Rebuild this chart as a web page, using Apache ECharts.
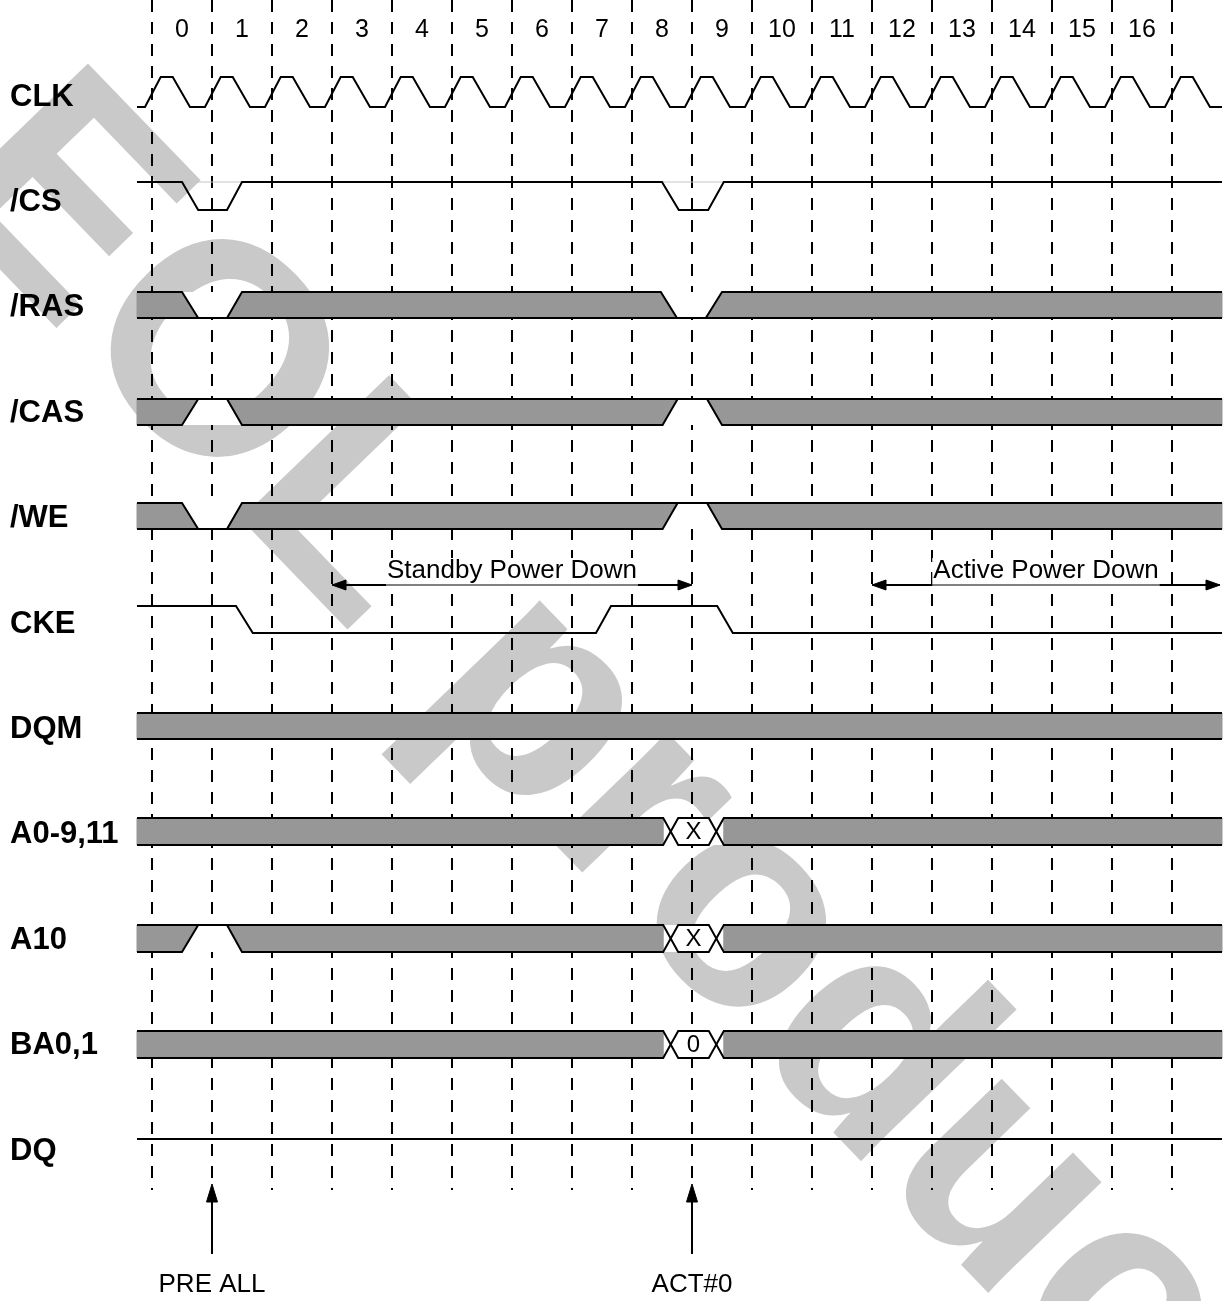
<!DOCTYPE html>
<html><head><meta charset="utf-8">
<script src="https://cdn.jsdelivr.net/npm/echarts/dist/echarts.min.js"></script>
<style>html,body{margin:0;padding:0;background:#fff}#c{width:1224px;height:1301px}</style>
</head><body><div id="c"></div>
<script>
// ---------------- data ----------------
const clockLabels = ['0','1','2','3','4','5','6','7','8','9','10','11','12','13','14','15','16'];
const signalNames = ['CLK','/CS','/RAS','/CAS','/WE','CKE','DQM','A0-9,11','A10','BA0,1','DQ'];
const gridTimes = [0,1,2,3,4,5,6,7,8,9,10,11,12,13,14,15,16,17];
const clkRise = [0,1,2,3,4,5,6,7,8,9,10,11,12,13,14,15,16,17];
// edges: [start, end, new state]  (H high, L low, X don't care, V valid)
const csEdges   = [[0.5,0.77,'L'],[1.25,1.5,'H'],[8.5,8.78,'L'],[9.27,9.53,'H']];
const rasEdges  = [[0.5,0.77,'L'],[1.25,1.5,'X'],[8.48,8.75,'L'],[9.23,9.5,'X']];
const casEdges  = [[0.5,0.77,'H'],[1.25,1.5,'X'],[8.51,8.76,'H'],[9.25,9.5,'X']];
const weEdges   = [[0.5,0.77,'L'],[1.25,1.5,'X'],[8.51,8.76,'H'],[9.25,9.5,'X']];
const ckeEdges  = [[1.4,1.68,'L'],[7.4,7.65,'H'],[9.42,9.68,'L']];
const dqmEdges  = [];
const addrEdges = [[8.52,8.77,'V'],[9.28,9.53,'X']];
const a10Edges  = [[0.5,0.77,'H'],[1.25,1.5,'X'],[8.52,8.77,'V'],[9.28,9.53,'X']];
const baEdges   = [[8.52,8.77,'V'],[9.28,9.53,'X']];
const dqEdges   = [];
const busValues = ['', '', '', '', '', '', '', 'X', 'X', '0', ''];
const spanStarts = [3, 12];
const spanEnds   = [9, 17.8];
const spanLabels = ['Standby Power Down', 'Active Power Down'];
const cmdTimes  = [1, 9];
const cmdLabels = ['PRE ALL', 'ACT#0'];
const watermarkText = 'EOL product';

// ---------------- layout ----------------
const T0 = -0.25, T1 = 17.8333;
const Y0 = 97, YU = 105.4;
const py = px => (px - Y0) / YU;
const rowTopBot = [[77,107],[182,210],[292,318],[399,425],[503,529],[606,633],[713,739],[818,845],[925,952],[1031,1058],[1139,1139]];
const clkShape = [[-0.117,0],[0.145,1],[0.345,1],[0.633,0]];
const GRAY = '#979797';
const FONT = '"Liberation Sans", Arial, sans-serif';
const rows = [
  {kind:'clock'},
  {kind:'line', init:'H', edges:csEdges, ghost:true},
  {kind:'bus', init:'X', edges:rasEdges},
  {kind:'bus', init:'X', edges:casEdges},
  {kind:'bus', init:'X', edges:weEdges},
  {kind:'line', init:'H', edges:ckeEdges},
  {kind:'bus', init:'X', edges:dqmEdges},
  {kind:'bus', init:'X', edges:addrEdges},
  {kind:'bus', init:'X', edges:a10Edges},
  {kind:'bus', init:'X', edges:baEdges},
  {kind:'line', init:'H', edges:dqEdges}
];

const mctx = document.createElement('canvas').getContext('2d');
function textW(t, font){ mctx.font = font; return mctx.measureText(t).width; }

function renderRow(params, api) {
  const i = params.dataIndex;
  const row = rows[i];
  const yTop = api.coord([0, py(rowTopBot[i][0])])[1];
  const yBot = api.coord([0, py(rowTopBot[i][1])])[1];
  const X = t => api.coord([t, 0])[0];
  const ls = {stroke:'#000', lineWidth:2, fill:null, lineJoin:'miter'};
  const children = [];
  if (row.kind === 'clock') {
    const pts = [[X(T0), yBot]];
    clkRise.forEach(k => clkShape.forEach(([o, l]) => pts.push([X(k + o), l ? yTop : yBot])));
    pts.push([X(T1), yBot]);
    children.push({type:'polyline', shape:{points:pts}, style:ls});
    return {type:'group', children};
  }
  const segs = []; let cur = row.init, pos = T0;
  row.edges.forEach(([a, b, s]) => {
    segs.push({k:'s', p:pos, q:a, s:cur});
    segs.push({k:'t', p:a, q:b, s1:cur, s2:s});
    cur = s; pos = b;
  });
  segs.push({k:'s', p:pos, q:T1, s:cur});
  const up = s => s === 'L' ? yBot : yTop;
  const lo = s => s === 'H' ? yTop : yBot;
  const bus = row.kind === 'bus';
  if (bus) {
    children.push({type:'rect', shape:{x:X(T0), y:yTop, width:X(T1)-X(T0), height:yBot-yTop}, style:{fill:'#fff'}});
    segs.forEach(g => {
      let poly = null;
      if (g.k === 's' && g.s === 'X') poly = [[X(g.p),yTop],[X(g.q),yTop],[X(g.q),yBot],[X(g.p),yBot]];
      else if (g.k === 't' && (g.s1 === 'X' || g.s2 === 'X') && g.s1 !== 'V' && g.s2 !== 'V')
        poly = [[X(g.p),up(g.s1)],[X(g.q),up(g.s2)],[X(g.q),lo(g.s2)],[X(g.p),lo(g.s1)]];
      if (poly) children.push({type:'polygon', shape:{points:poly}, style:{fill:GRAY, stroke:GRAY, lineWidth:1}});
    });
  }
  if (row.ghost) children.push({type:'line', shape:{x1:X(T0), y1:yTop, x2:X(T1), y2:yTop}, style:{stroke:'#c4c4c4', lineWidth:1}});
  const A = [[X(T0), up(row.init)]], B = [[X(T0), lo(row.init)]];
  let aUp = true;
  segs.forEach(g => {
    if (g.k === 's') {
      A.push([X(g.q), aUp ? up(g.s) : lo(g.s)]);
      B.push([X(g.q), aUp ? lo(g.s) : up(g.s)]);
      if (g.s === 'V') {
        children.push({type:'text', x:(X(g.p)+X(g.q))/2, y:(yTop+yBot)/2+1,
          style:{text:busValues[i], font:'24px ' + FONT, fill:'#000', align:'center', verticalAlign:'middle'}});
      }
    } else {
      const cross = (g.s1 === 'X' || g.s1 === 'V') && (g.s2 === 'X' || g.s2 === 'V');
      if (cross) aUp = !aUp;
      A.push([X(g.q), aUp ? up(g.s2) : lo(g.s2)]);
      B.push([X(g.q), aUp ? lo(g.s2) : up(g.s2)]);
    }
  });
  children.push({type:'polyline', shape:{points:A}, style:ls});
  if (bus) children.push({type:'polyline', shape:{points:B}, style:ls});
  return {type:'group', children};
}

function renderGrid(params, api) {
  const p1 = api.coord([api.value(0), py(0)]);
  const p2 = api.coord([api.value(0), py(1190)]);
  return {type:'line', shape:{x1:p1[0], y1:p1[1], x2:p2[0], y2:p2[1]},
    style:{stroke:'#000', lineWidth:2, lineDash:[12, 10]}};
}

function arrowHead(tip, dir, len, half) {
  const bx = tip[0] - dir[0]*len, by = tip[1] - dir[1]*len;
  return {type:'polygon', shape:{points:[tip, [bx - dir[1]*half, by + dir[0]*half], [bx + dir[1]*half, by - dir[0]*half]]},
    style:{fill:'#000', stroke:'#000', lineWidth:1}};
}

function renderSpan(params, api) {
  const j = params.dataIndex;
  const y = api.coord([0, py(585)])[1];
  const ty = api.coord([0, py(571)])[1];
  const x1 = api.coord([spanStarts[j], 0])[0], x2 = api.coord([spanEnds[j], 0])[0];
  const cx = (x1 + x2) / 2;
  const font = '26px ' + FONT;
  const w = textW(spanLabels[j], font);
  return {type:'group', children:[
    {type:'text', x:cx, y:ty, style:{text:spanLabels[j], font, fill:'#000', align:'center', verticalAlign:'middle', backgroundColor:'#fff', padding:[0,1]}},
    {type:'line', shape:{x1:x1, y1:y, x2:x2, y2:y}, style:{stroke:'#000', lineWidth:1}},
    {type:'line', shape:{x1:x1+4, y1:y, x2:cx-w/2-1, y2:y}, style:{stroke:'#000', lineWidth:2}},
    {type:'line', shape:{x1:cx+w/2+1, y1:y, x2:x2-4, y2:y}, style:{stroke:'#000', lineWidth:2}},
    arrowHead([x1, y], [-1, 0], 14, 5),
    arrowHead([x2, y], [1, 0], 14, 5)
  ]};
}

function renderCmd(params, api) {
  const j = params.dataIndex;
  const x = api.coord([cmdTimes[j], 0])[0];
  const yTip = api.coord([0, py(1184)])[1], yEnd = api.coord([0, py(1254)])[1];
  const ty = api.coord([0, py(1285)])[1];
  return {type:'group', children:[
    {type:'line', shape:{x1:x, y1:yEnd, x2:x, y2:yTip+10}, style:{stroke:'#000', lineWidth:2}},
    arrowHead([x, yTip], [0, -1], 18, 5.5),
    {type:'text', x:x, y:ty, style:{text:cmdLabels[j], font:'26px ' + FONT, fill:'#000', align:'center', verticalAlign:'middle'}}
  ]};
}

const chart = echarts.init(document.getElementById('c'), null, {renderer:'canvas'});
const option = {
  animation: false,
  backgroundColor: '#fff',
  grid: {left: 2, width: 1222, top: Y0 - YU, height: 12.5 * YU, containLabel: false, outerBoundsMode: 'none'},
  xAxis: {
    type:'value', position:'top', min:-2.5, max:-2.5 + 1222/60, interval:1,
    axisLine:{show:false}, axisTick:{show:false}, splitLine:{show:false},
    axisLabel:{inside:true, margin:26, fontSize:25, color:'#000', fontFamily:FONT, showMinLabel:true, showMaxLabel:true,
      formatter: v => { const k = Math.round(v - 0.5); return (Math.abs(v - 0.5 - k) < 1e-6 && k >= 0 && k < clockLabels.length) ? clockLabels[k] : ''; }}
  },
  yAxis: {
    type:'value', inverse:true, min:-1, max:11.5, interval:1,
    axisLine:{show:false}, axisTick:{show:false}, splitLine:{show:false},
    axisLabel:{inside:true, margin:8, fontSize:31, fontWeight:'bold', color:'#000', fontFamily:FONT, showMinLabel:true, showMaxLabel:true,
      formatter: v => (Number.isInteger(v) && v >= 0 && v < signalNames.length) ? signalNames[v] : ''}
  },
  graphic: [{
    type:'text', x:-15, y:135, rotation:-46 * Math.PI / 180, z:-10, silent:true,
    style:{text:watermarkText, font:'bold 300px ' + FONT, fill:'#c9c9c9', align:'left', verticalAlign:'middle'}
  }],
  series: [
    {type:'custom', name:'grid', z:3, data: gridTimes.map(t => [t, 0]), renderItem: renderGrid, silent:true},
    {type:'custom', name:'signals', z:4, data: signalNames.map((_, i) => [0, i]), renderItem: renderRow, silent:true},
    {type:'custom', name:'spans', z:5, data: spanLabels.map((_, j) => [spanStarts[j], 0]), renderItem: renderSpan, silent:true},
    {type:'custom', name:'cmds', z:5, data: cmdLabels.map((_, j) => [cmdTimes[j], 0]), renderItem: renderCmd, silent:true}
  ]
};
chart.setOption(option);
</script></body></html>
